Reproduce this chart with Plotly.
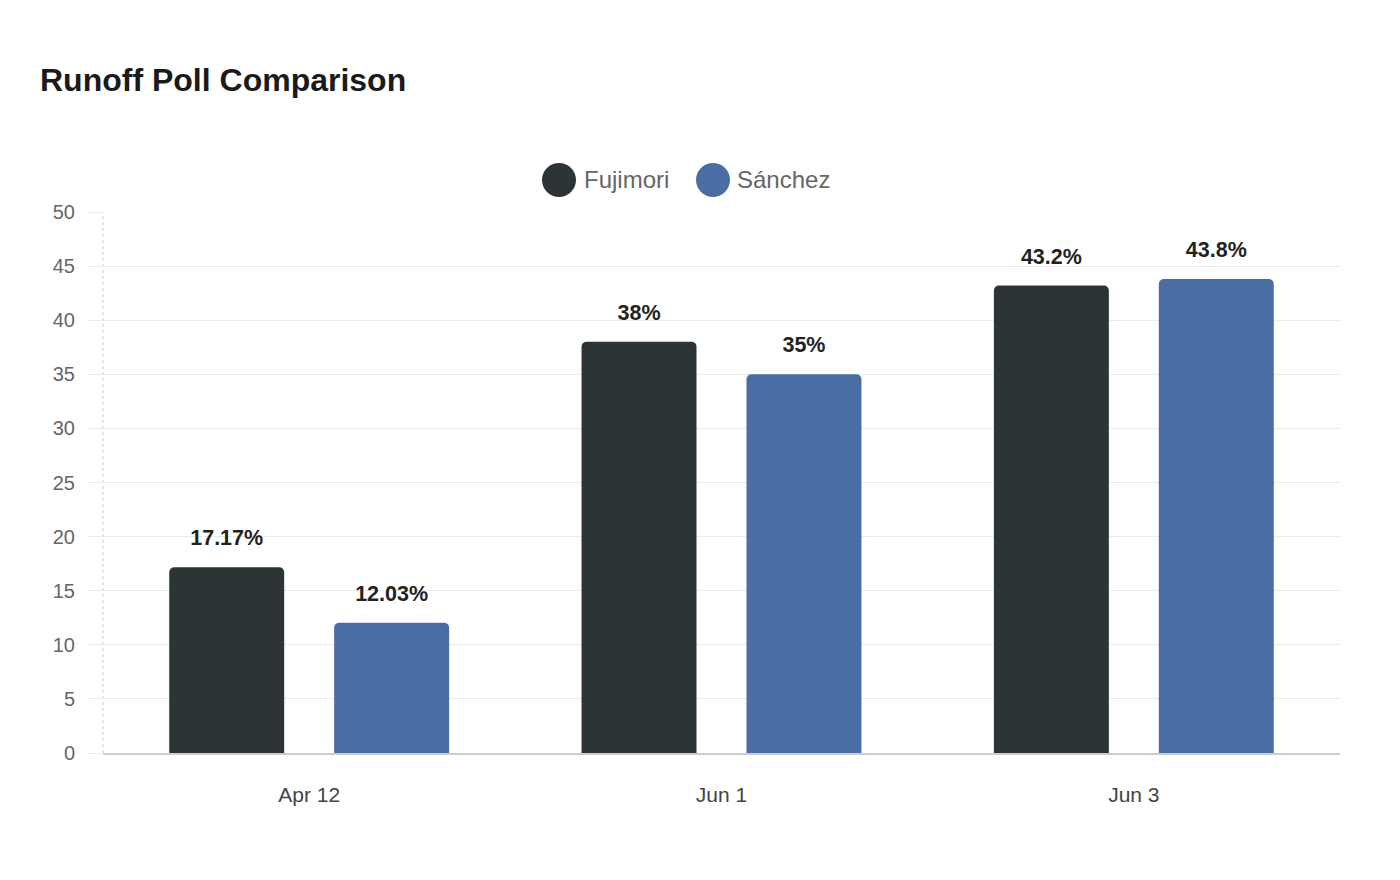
import plotly.graph_objects as go

categories = ["Apr 12", "Jun 1", "Jun 3"]
fujimori = [17.17, 38, 43.2]
sanchez = [12.03, 35, 43.8]
fujimori_labels = ["17.17%", "38%", "43.2%"]
sanchez_labels = ["12.03%", "35%", "43.8%"]
y_ticks = [0, 5, 10, 15, 20, 25, 30, 35, 40, 45, 50]

C_FUJI = "#2d3436"
C_SAN = "#4a6da4"
FONT = "Liberation Sans, Arial, sans-serif"

fig = go.Figure()
series = [("Fujimori", fujimori, fujimori_labels, C_FUJI),
          ("Sánchez", sanchez, sanchez_labels, C_SAN)]
for name, vals, labels, color in series:
    fig.add_trace(go.Bar(
        x=categories, y=vals, name=name, marker=dict(color=color, line=dict(width=0)),
        showlegend=False, hoverinfo="x+y", offsetgroup=name,
    ))
for name, vals, labels, color in series:
    fig.add_trace(go.Scatter(
        x=categories, y=vals, name=name + " labels", mode="markers+text",
        marker=dict(size=25, opacity=0, color=color), offsetgroup=name,
        text=labels, texttemplate="<b>%{text}</b>", textposition="top center",
        textfont=dict(size=21.5, color="#222222", family=FONT),
        cliponaxis=False, showlegend=False, hoverinfo="skip",
    ))

fig.update_layout(
    width=1400, height=880,
    paper_bgcolor="white", plot_bgcolor="white",
    margin=dict(l=103, r=60, t=212, b=127),
    barmode="group", bargap=0.2, bargroupgap=0.303, barcornerradius=5,
    scattermode="group", scattergap=0.2,
    font=dict(family=FONT, color="#666666"),
    title=dict(text="<b>Runoff Poll Comparison</b>", x=40/1400, xanchor="left",
               xref="container", y=1-80/880, yref="container", yanchor="middle",
               font=dict(size=32, color="#1a1a1a", family=FONT)),
)

fig.update_yaxes(range=[0, 50], tickvals=y_ticks, showgrid=True, gridcolor="#ebebeb",
                 gridwidth=1, zeroline=False, showline=False,
                 ticks="outside", ticklen=15, tickcolor="#ebebeb", tickwidth=1,
                 tickfont=dict(size=20, color="#666666"), ticklabelstandoff=8,
                 fixedrange=True)
fig.update_xaxes(showline=True, linecolor="#cccccc", linewidth=1.5, ticks="",
                 tickfont=dict(size=21, color="#444444"), ticklabelstandoff=22,
                 showgrid=False)

# dotted left axis line
fig.add_shape(type="line", xref="paper", yref="paper", x0=0, x1=0, y0=0, y1=1,
              line=dict(color="#cccccc", width=1, dash="dot"), layer="below")

# custom legend with large circle markers
def px2paper_x(px):
    return (px - 103) / 1237

def py2paper_y(py):
    return (753 - py) / 541

legend_items = [("Fujimori", C_FUJI, 559, 582), ("Sánchez", C_SAN, 713, 735)]
for name, color, cx, tx in legend_items:
    fig.add_shape(type="circle", xref="paper", yref="paper",
                  xsizemode="pixel", ysizemode="pixel",
                  xanchor=px2paper_x(cx), yanchor=py2paper_y(180),
                  x0=-17, x1=17, y0=-17, y1=17,
                  fillcolor=color, line=dict(width=0))
    fig.add_annotation(text=name, xref="paper", yref="paper",
                       x=px2paper_x(tx), y=py2paper_y(180), xanchor="left", yanchor="middle",
                       showarrow=False, font=dict(size=24, color="#666666", family=FONT))

fig.write_html("out.html")
